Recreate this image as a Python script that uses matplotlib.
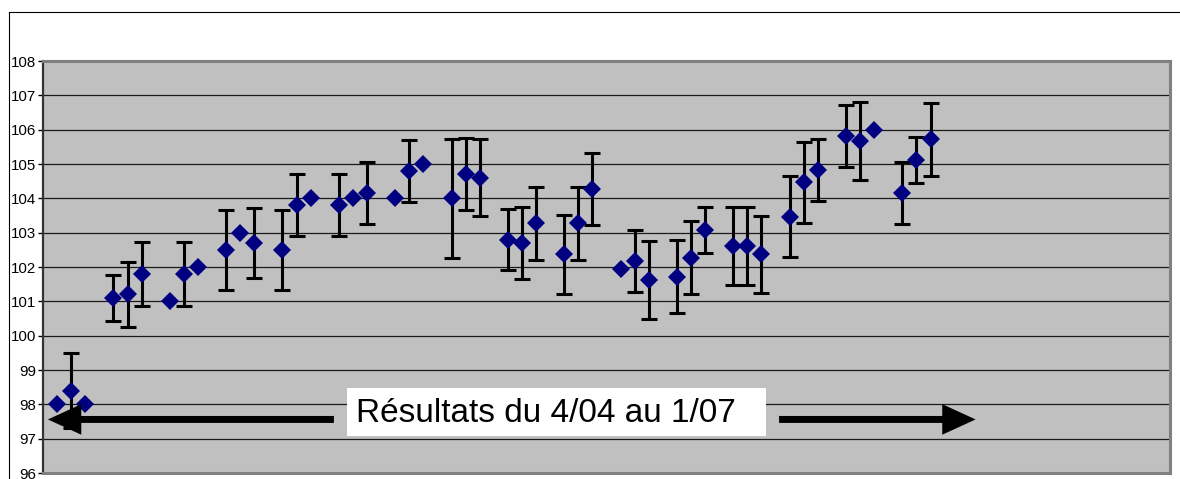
import numpy as np
import matplotlib
matplotlib.use("Agg")
import matplotlib.pyplot as plt
from matplotlib.lines import Line2D
from matplotlib.patches import Rectangle

plt.rcParams['font.family'] = ['Liberation Sans', 'DejaVu Sans']

# day index (gaps every 4th day), measured value, error bar (0 = none)
day = [0, 1, 2, 4, 5, 6, 8, 9, 10, 12, 13, 14, 16, 17, 18, 20, 21, 22,
       24, 25, 26, 28, 29, 30, 32, 33, 34, 36, 37, 38, 40, 41, 42,
       44, 45, 46, 48, 49, 50, 52, 53, 54, 56, 57, 58, 60, 61, 62]
value = [98.0, 98.4, 98.0, 101.1, 101.2, 101.8, 101.0, 101.8, 102.0,
         102.5, 103.0, 102.7, 102.5, 103.8, 104.0, 103.8, 104.0, 104.15,
         104.0, 104.8, 105.0, 104.0, 104.7, 104.6, 102.8, 102.7, 103.27,
         102.37, 103.27, 104.27, 101.95, 102.17, 101.62,
         101.72, 102.27, 103.08, 102.62, 102.62, 102.37,
         103.47, 104.47, 104.83, 105.82, 105.67, 106.0,
         104.15, 105.12, 105.72]
err = [0, 1.1, 0, 0.67, 0.95, 0.93, 0, 0.93, 0,
       1.16, 0, 1.02, 1.16, 0.9, 0, 0.9, 0, 0.9,
       0, 0.9, 0, 1.73, 1.05, 1.12, 0.9, 1.06, 1.06,
       1.15, 1.06, 1.04, 0, 0.9, 1.13,
       1.06, 1.06, 0.68, 1.14, 1.14, 1.13,
       1.18, 1.18, 0.9, 0.9, 1.15, 0,
       0.9, 0.67, 1.07]

yticks = list(range(96, 109))
label = "Résultats du 4/04 au 1/07"

x = np.array(day)
y = np.array(value)
e = np.array(err)
has_err = e > 0

fig = plt.figure(figsize=(11.8, 4.79), dpi=100)
ax = fig.add_axes([43 / 1180, 1 - 473 / 479, 1127 / 1180, 412 / 479])
ax.set_facecolor('#C0C0C0')

# outer frame (top and left edges only are visible)
fig.add_artist(Line2D([8.5 / 1180, 8.5 / 1180], [0, 1 - 12 / 479], color='black', lw=0.8))
fig.add_artist(Line2D([8.5 / 1180, 1], [1 - 12 / 479, 1 - 12 / 479], color='black', lw=0.8))

ax.set_xlim(-1, 79)
ax.set_ylim(96, 108)
ax.set_yticks(yticks)
ax.set_xticks([])
ax.yaxis.grid(True, color='#1a1a1a', lw=0.9)
ax.set_axisbelow(True)
ax.tick_params(axis='y', length=3.5, width=1, direction='out', pad=1.5,
               labelsize=10.8, color='black')

for side in ['top', 'right', 'bottom']:
    ax.spines[side].set_color('#808080')
    ax.spines[side].set_linewidth(2.2)
ax.spines['left'].set_color('#333333')
ax.spines['left'].set_linewidth(1.6)

ax.errorbar(x[has_err], y[has_err], yerr=e[has_err], fmt='none',
            ecolor='black', elinewidth=2.2, capsize=6, capthick=2.2, zorder=3)
ax.plot(x, y, 'D', color='#000080', markersize=9.5, markeredgewidth=0, zorder=4)

# date range label with arrows on both sides
ax.add_patch(Rectangle((304 / 1127, 37 / 412), 419 / 1127, 48 / 412,
                       transform=ax.transAxes, facecolor='white',
                       edgecolor='none', zorder=5))
ax.text(313 / 1127, 51.5 / 412, label, transform=ax.transAxes, fontsize=24,
        ha='left', va='baseline', color='black', zorder=6)

arrow = dict(arrowstyle='simple,head_length=24,head_width=22,tail_width=5',
             mutation_scale=1, color='black', lw=0, shrinkA=0, shrinkB=0)
ax.annotate('', xy=(-0.65, 97.56), xytext=(19.65, 97.56),
            arrowprops=arrow, zorder=6)
ax.annotate('', xy=(65.2, 97.56), xytext=(51.25, 97.56),
            arrowprops=arrow, zorder=6)

fig.savefig('out.png', dpi=100)
